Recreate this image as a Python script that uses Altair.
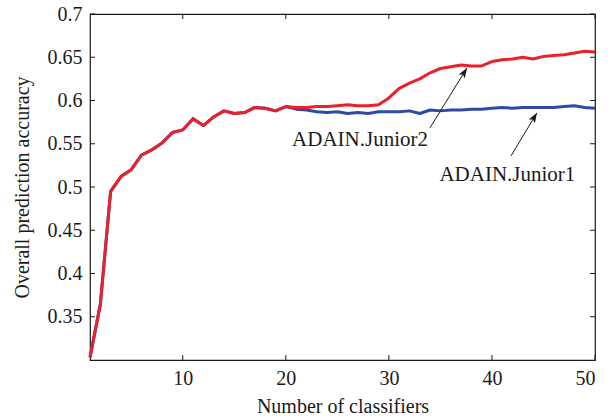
import math
import altair as alt
import pandas as pd

# Accuracy versus ensemble size for the two ADAIN.Junior variants
classifiers = list(range(1, 51))
junior1 = [0.303, 0.364, 0.495, 0.512, 0.520, 0.537, 0.543, 0.551, 0.563, 0.566,
           0.579, 0.571, 0.581, 0.588, 0.585, 0.586, 0.592, 0.591, 0.588, 0.593,
           0.590, 0.589, 0.587, 0.586, 0.587, 0.585, 0.586, 0.585, 0.587, 0.587,
           0.587, 0.588, 0.585, 0.589, 0.588, 0.589, 0.589, 0.590, 0.590, 0.591,
           0.592, 0.591, 0.592, 0.592, 0.592, 0.592, 0.593, 0.594, 0.592, 0.591]
junior2 = [0.303, 0.364, 0.495, 0.512, 0.520, 0.537, 0.543, 0.551, 0.563, 0.566,
           0.579, 0.571, 0.581, 0.588, 0.585, 0.586, 0.592, 0.591, 0.588, 0.593,
           0.592, 0.592, 0.593, 0.593, 0.594, 0.595, 0.594, 0.594, 0.595, 0.603,
           0.614, 0.620, 0.625, 0.632, 0.637, 0.639, 0.641, 0.640, 0.640, 0.645,
           0.647, 0.648, 0.650, 0.648, 0.651, 0.652, 0.653, 0.655, 0.657, 0.656]

x_ticks = [10, 20, 30, 40, 50]
y_ticks = [0.35, 0.4, 0.45, 0.5, 0.55, 0.6, 0.65, 0.7]

# Annotation text and arrows (tail -> tip), in data units
ann_labels = ["ADAIN.Junior2", "ADAIN.Junior1"]
ann_text_x = [27.2, 41.5]
ann_text_y = [0.5476, 0.5064]
arrow_x0 = [33.99, 41.85]
arrow_y0 = [0.5684, 0.5360]
arrow_x1 = [37.58, 44.37]
arrow_y1 = [0.6376, 0.5857]

W, H = 505, 346
X_DOM = [1, 50]
Y_DOM = [0.3, 0.7]
FONT = "Liberation Serif"
RED = "#e8212b"
BLUE = "#2d4aa6"


def to_px(x, y):
    px = (x - X_DOM[0]) / (X_DOM[1] - X_DOM[0]) * W
    py = (Y_DOM[1] - y) / (Y_DOM[1] - Y_DOM[0]) * H
    return px, py


def heading(x0, y0, x1, y1):
    ax, ay = to_px(x0, y0)
    bx, by = to_px(x1, y1)
    ang = math.degrees(math.atan2(bx - ax, -(by - ay)))
    return ang % 360


lines = pd.DataFrame({
    "n": classifiers * 2,
    "acc": junior1 + junior2,
    "series": ["ADAIN.Junior1"] * 50 + ["ADAIN.Junior2"] * 50,
})
arrows = pd.DataFrame({
    "x0": arrow_x0, "y0": arrow_y0, "x1": arrow_x1, "y1": arrow_y1,
    "angle": [heading(a, b, c, d) for a, b, c, d in zip(arrow_x0, arrow_y0, arrow_x1, arrow_y1)],
})
labels = pd.DataFrame({"x": ann_text_x, "y": ann_text_y, "text": ann_labels})
xt = pd.DataFrame({"v": x_ticks})
yt = pd.DataFrame({"v": y_ticks})

xscale = alt.Scale(domain=X_DOM, nice=False, zero=False)
yscale = alt.Scale(domain=Y_DOM, nice=False, zero=False)

xaxis = alt.Axis(values=x_ticks, ticks=False, domain=False, grid=False,
                 labelFont=FONT, labelFontSize=20, labelColor="#1a1a1a", labelPadding=8,
                 title="Number of classifiers", titleFont=FONT, titleFontSize=20,
                 titleFontWeight="normal", titleColor="#1a1a1a", titlePadding=8)
yaxis = alt.Axis(values=y_ticks, format="~g", ticks=False, domain=False, grid=False,
                 labelFont=FONT, labelFontSize=20, labelColor="#1a1a1a", labelPadding=8,
                 title="Overall prediction accuracy", titleFont=FONT, titleFontSize=20,
                 titleFontWeight="normal", titleColor="#1a1a1a", titlePadding=15)

curves = alt.Chart(lines).mark_line(strokeWidth=3, strokeJoin="round").encode(
    x=alt.X("n:Q", scale=xscale, axis=xaxis),
    y=alt.Y("acc:Q", scale=yscale, axis=yaxis),
    color=alt.Color("series:N", scale=alt.Scale(domain=["ADAIN.Junior1", "ADAIN.Junior2"],
                                                range=[BLUE, RED]), legend=None),
    order=alt.Order("series:N"),
)

# inward tick marks on all four sides of the box
tick_style = dict(color="#1a1a1a", strokeWidth=1)
bottom_ticks = alt.Chart(xt).mark_rule(**tick_style).encode(
    x=alt.X("v:Q", scale=xscale), y=alt.value(H), y2=alt.value(H - 5))
top_ticks = alt.Chart(xt).mark_rule(**tick_style).encode(
    x=alt.X("v:Q", scale=xscale), y=alt.value(0), y2=alt.value(5))
left_ticks = alt.Chart(yt).mark_rule(**tick_style).encode(
    y=alt.Y("v:Q", scale=yscale), x=alt.value(0), x2=alt.value(5))
right_ticks = alt.Chart(yt).mark_rule(**tick_style).encode(
    y=alt.Y("v:Q", scale=yscale), x=alt.value(W), x2=alt.value(W - 5))

shafts = alt.Chart(arrows).mark_rule(color="#1a1a1a", strokeWidth=1).encode(
    x=alt.X("x0:Q", scale=xscale), y=alt.Y("y0:Q", scale=yscale),
    x2="x1:Q", y2="y1:Q")
heads = alt.Chart(arrows).mark_point(
    shape="M0,0L-0.36,1L0,0.78L0.36,1Z", size=400, filled=True,
    color="#1a1a1a", opacity=1, strokeWidth=0).encode(
    x=alt.X("x1:Q", scale=xscale), y=alt.Y("y1:Q", scale=yscale),
    angle=alt.Angle("angle:Q", scale=None))

texts = alt.Chart(labels).mark_text(font=FONT, fontSize=21, color="#1a1a1a",
                                    align="center", baseline="alphabetic").encode(
    x=alt.X("x:Q", scale=xscale), y=alt.Y("y:Q", scale=yscale), text="text:N")

chart = alt.layer(
    curves, bottom_ticks, top_ticks, left_ticks, right_ticks, shafts, heads, texts
).properties(
    width=W, height=H,
    autosize=alt.AutoSizeParams(type="none"),
    padding={"left": 90, "top": 14, "right": 21, "bottom": 58},
    background="white",
).configure_view(stroke="#1a1a1a", strokeWidth=1.2)

chart.save("out.html", embed_options={"renderer": "svg", "actions": False})
